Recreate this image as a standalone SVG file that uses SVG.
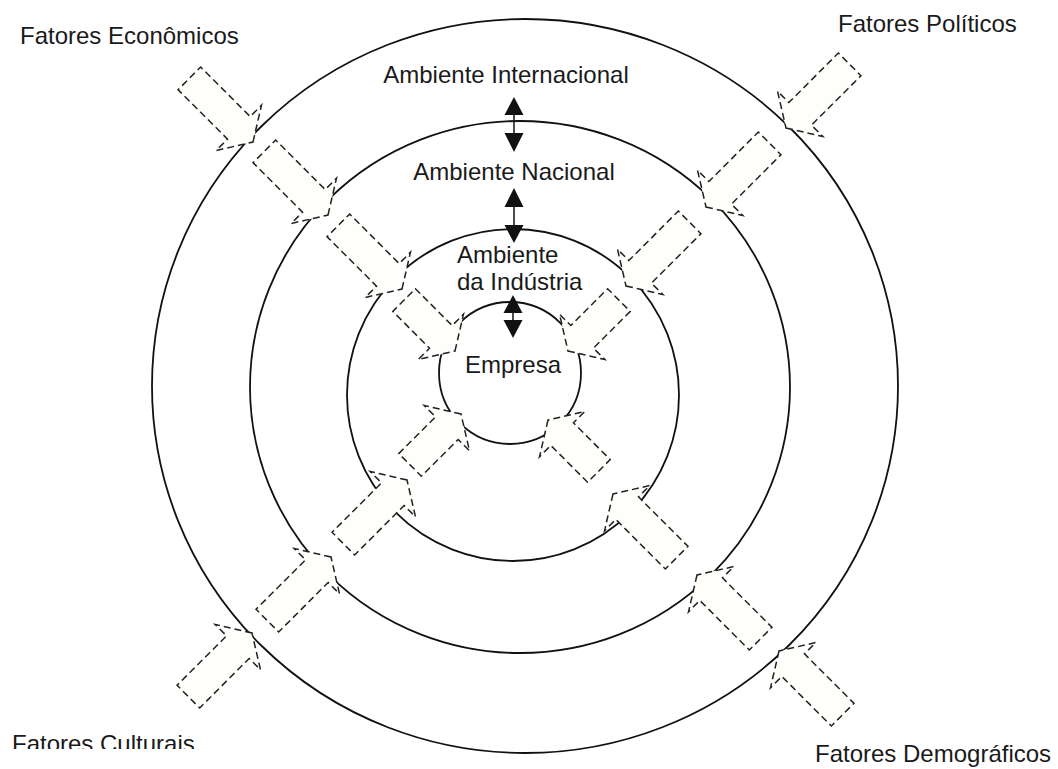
<svg xmlns="http://www.w3.org/2000/svg" width="1058" height="769" viewBox="0 0 1058 769">
<style>
.ring{fill:none;stroke:#111;stroke-width:1.8}
.blk{fill:#fefefa;stroke:#222;stroke-width:1.5;stroke-dasharray:7 4;stroke-linejoin:miter}
.lbl{font-family:"Liberation Sans",Arial,sans-serif;font-size:24px;fill:#1a1a1a}
.dbl{stroke:#111;stroke-width:1.5}
.hd{fill:#111}
</style>
<defs>
<path id="big" d="M0,0 L-20,-32 L-20,-16 L-90,-16 L-90,16 L-20,16 L-20,32 Z"/>
<path id="small" d="M0,0 L-20,-32 L-20,-16 L-72,-16 L-72,16 L-20,16 L-20,32 Z"/>
<clipPath id="clipC"><rect x="0" y="700" width="400" height="49"/></clipPath>
</defs>
<rect width="1058" height="769" fill="#fff"/>
<g id="rings">
<ellipse id="ring-internacional" class="ring" cx="525" cy="386" rx="373" ry="367"/>
<ellipse id="ring-nacional" class="ring" cx="520" cy="387" rx="270" ry="266"/>
<circle id="ring-industria" class="ring" cx="513" cy="395" r="166"/>
<circle id="ring-empresa" class="ring" cx="510" cy="373" r="71"/>
</g>
<g id="connectors">
<g id="factor-arrows" class="blk">
<use href="#big" transform="translate(253,142) rotate(45)"/>
<use href="#big" transform="translate(328,215) rotate(45)"/>
<use href="#big" transform="translate(402,289) rotate(45)"/>
<use href="#small" transform="translate(455,351) rotate(45)"/>
<use href="#big" transform="translate(786,128) rotate(135)"/>
<use href="#big" transform="translate(706,207) rotate(135)"/>
<use href="#big" transform="translate(626,286) rotate(135)"/>
<use href="#small" transform="translate(568,351) rotate(135)"/>
<use href="#big" transform="translate(252,633) rotate(-45)"/>
<use href="#big" transform="translate(331,557) rotate(-45)"/>
<use href="#big" transform="translate(407,480) rotate(-45)"/>
<use href="#small" transform="translate(461,414) rotate(-45)"/>
<use href="#big" transform="translate(779,651) rotate(-135)"/>
<use href="#big" transform="translate(697,575) rotate(-135)"/>
<use href="#big" transform="translate(613,494) rotate(-135)"/>
<use href="#small" transform="translate(548,420) rotate(-135)"/>
</g>
<g id="double-arrows">
<line class="dbl" x1="514" y1="100" x2="514" y2="150"/>
<polygon class="hd" points="514,97 504.5,115 523.5,115"/>
<polygon class="hd" points="514,152 504.5,133 523.5,133"/>
<line class="dbl" x1="514" y1="191" x2="514" y2="241"/>
<polygon class="hd" points="514,188 504.5,207 523.5,207"/>
<polygon class="hd" points="514,243 504.5,225 523.5,225"/>
<line class="dbl" x1="513" y1="298" x2="513" y2="336"/>
<polygon class="hd" points="513,295 503.5,313 522.5,313"/>
<polygon class="hd" points="513,338 503.5,320 522.5,320"/>
</g>
</g>
<g id="node-internacional"><text class="lbl" x="506" y="83" text-anchor="middle">Ambiente Internacional</text></g>
<g id="node-nacional"><text class="lbl" x="514" y="180" text-anchor="middle">Ambiente Nacional</text></g>
<g id="node-industria"><text class="lbl" x="457" y="263">Ambiente</text><text class="lbl" x="457" y="290">da Indústria</text></g>
<g id="node-empresa"><text class="lbl" x="513" y="373" text-anchor="middle">Empresa</text></g>
<g id="node-economicos"><text class="lbl" x="20" y="44">Fatores Econômicos</text></g>
<g id="node-politicos"><text class="lbl" x="838" y="32">Fatores Políticos</text></g>
<g id="node-culturais"><text class="lbl" x="12" y="752" clip-path="url(#clipC)">Fatores Culturais</text></g>
<g id="node-demograficos"><text class="lbl" x="815" y="762">Fatores Demográficos</text></g>
</svg>
